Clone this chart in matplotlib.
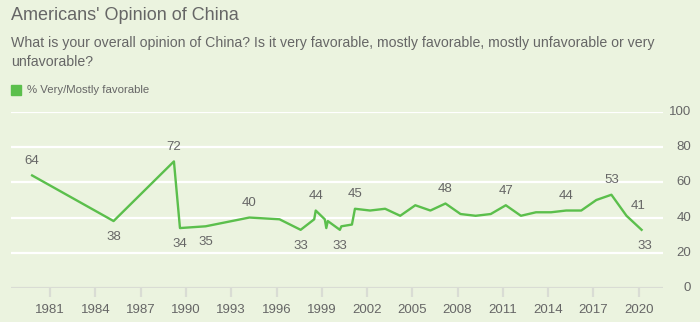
import matplotlib.pyplot as plt
import matplotlib.transforms as mtransforms

plt.rcParams['font.family'] = ['Liberation Sans', 'DejaVu Sans']

# data (decimal year, % very/mostly favorable)
years = [1979.8, 1985.2, 1989.2, 1989.6, 1991.3, 1994.2, 1996.2, 1997.6,
         1998.5, 1998.6, 1999.2, 1999.3, 1999.4, 2000.2, 2000.3, 2001.0,
         2001.2, 2002.2, 2003.2, 2004.2, 2005.2, 2006.2, 2007.2, 2008.2,
         2009.2, 2010.2, 2011.2, 2012.2, 2013.2, 2014.2, 2015.2, 2016.2,
         2017.2, 2018.2, 2019.2, 2020.2]
favorable = [64, 38, 72, 34, 35, 40, 39, 33,
             39, 44, 39, 34, 38, 33, 35, 36,
             45, 44, 45, 41, 47, 44, 48, 42,
             41, 42, 47, 41, 43, 43, 44, 44,
             50, 53, 41, 33]
# which points get a label, and where (a = above, b = below, r = right)
labels = {0: 'a', 1: 'b', 2: 'a', 3: 'b', 4: 'b', 5: 'a', 7: 'b', 9: 'a',
          13: 'b', 16: 'a', 22: 'a', 26: 'a', 30: 'a', 33: 'a', 34: 'r', 35: 'rb'}
tick_years = [1981, 1984, 1987, 1990, 1993, 1996, 1999, 2002, 2005, 2008,
              2011, 2014, 2017, 2020]
y_ticks = [0, 20, 40, 60, 80, 100]

bg = '#ebf3df'
green = '#5bbf4c'
grey = '#666666'

fig = plt.figure(figsize=(7, 3.22), dpi=100, facecolor=bg)
ax = fig.add_axes([11 / 700, 1 - 287.7 / 322, (662.7 - 11) / 700, (287.7 - 112.3) / 322])
ax.set_facecolor(bg)

for yv in y_ticks[1:]:
    ax.axhline(yv, color='white', lw=1.6, zorder=1)
ax.axhline(0, color='#d9dcd4', lw=1.6, zorder=1)

ax.plot(years, favorable, color=green, lw=1.7, zorder=3)

for i, pos in labels.items():
    x, v = years[i], favorable[i]
    if pos == 'a':
        ax.annotate(str(v), (x, v), xytext=(0, 6), textcoords='offset points',
                    ha='center', va='bottom', color=grey, fontsize=9.5)
    elif pos == 'b':
        ax.annotate(str(v), (x, v), xytext=(0, -7), textcoords='offset points',
                    ha='center', va='top', color=grey, fontsize=9.5)
    elif pos == 'r':
        ax.annotate(str(v), (x, v), xytext=(3, 3), textcoords='offset points',
                    ha='left', va='bottom', color=grey, fontsize=9.5)
    else:
        ax.annotate(str(v), (x, v), xytext=(-3, -7), textcoords='offset points',
                    ha='left', va='top', color=grey, fontsize=9.5)

ax.set_xlim(1978.4, 2021.6)
ax.set_ylim(0, 100)
for s in ax.spines.values():
    s.set_visible(False)

ax.set_xticks(tick_years)
ax.set_xticklabels([str(t) for t in tick_years])
ax.tick_params(axis='x', length=6.5, width=1.6, color='#d9dcd4', labelcolor=grey,
               labelsize=9.5, pad=5)
ax.set_yticks([])
trans = mtransforms.blended_transform_factory(fig.transFigure, ax.transData)
for yv in y_ticks:
    ax.text(691 / 700, yv, str(yv), transform=trans, ha='right', va='center',
            color=grey, fontsize=9.5)

fig.text(11 / 700, 1 - 16 / 322, "Americans' Opinion of China", fontsize=13,
         color=grey, va='center', ha='left')
fig.text(11 / 700, 1 - 43 / 322,
         "What is your overall opinion of China? Is it very favorable, mostly favorable, mostly unfavorable or very",
         fontsize=10.2, color=grey, va='center', ha='left')
fig.text(11 / 700, 1 - 62 / 322, "unfavorable?", fontsize=10.2, color=grey,
         va='center', ha='left')
fig.patches.append(plt.Rectangle((11 / 700, 1 - 95 / 322), 10 / 700, 10 / 322,
                                 transform=fig.transFigure, color=green))
fig.text(27 / 700, 1 - 90 / 322, "% Very/Mostly favorable", fontsize=8.2,
         color=grey, va='center', ha='left')

fig.savefig('out.png', dpi=100, facecolor=bg)
